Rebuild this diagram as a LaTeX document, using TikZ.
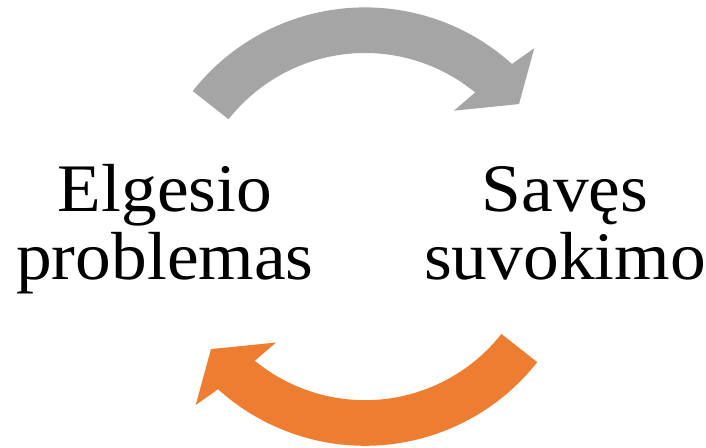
\documentclass[tikz,border=0pt]{standalone}
\usepackage{fontspec}
\setmainfont{Liberation Serif}[FakeStretch=1.05]
\definecolor{arrowgray}{HTML}{A5A5A5}
\definecolor{arroworange}{HTML}{ED7D31}
\begin{document}
\begin{tikzpicture}[x=1pt,y=1pt,
  cycletext/.style={align=center, font=\fontsize{68}{68.5}\selectfont, inner sep=0pt, anchor=base}]
\useasboundingbox (0,0) rectangle (706,447);
\coordinate (C) at (365,220.4);
% gray arrow (top)
\fill[arrowgray] ([shift={(C)}]141.8:219.2) arc[start angle=141.8, end angle=47.9, radius=219.2pt]
  -- ([shift={(C)}]46.5:245.9) -- ([shift={(C)}]38.5:196.8) -- ([shift={(C)}]52.5:146.1)
  -- ([shift={(C)}]50.6:173.6) arc[start angle=50.6, end angle=141.8, radius=173.6pt] -- cycle;
% orange arrow (bottom)
\fill[arroworange] ([shift={(C)}]321.8:219.2) arc[start angle=321.8, end angle=227.9, radius=219.2pt]
  -- ([shift={(C)}]226.5:245.9) -- ([shift={(C)}]218.5:196.8) -- ([shift={(C)}]232.5:146.1)
  -- ([shift={(C)}]230.6:173.6) arc[start angle=230.6, end angle=321.8, radius=173.6pt] -- cycle;
\node[cycletext] (elgesio) at (165,167) {Elgesio\\problemas};
\node[cycletext] (saves) at (565,167) {Savęs\\suvokimo};
\end{tikzpicture}
\end{document}
